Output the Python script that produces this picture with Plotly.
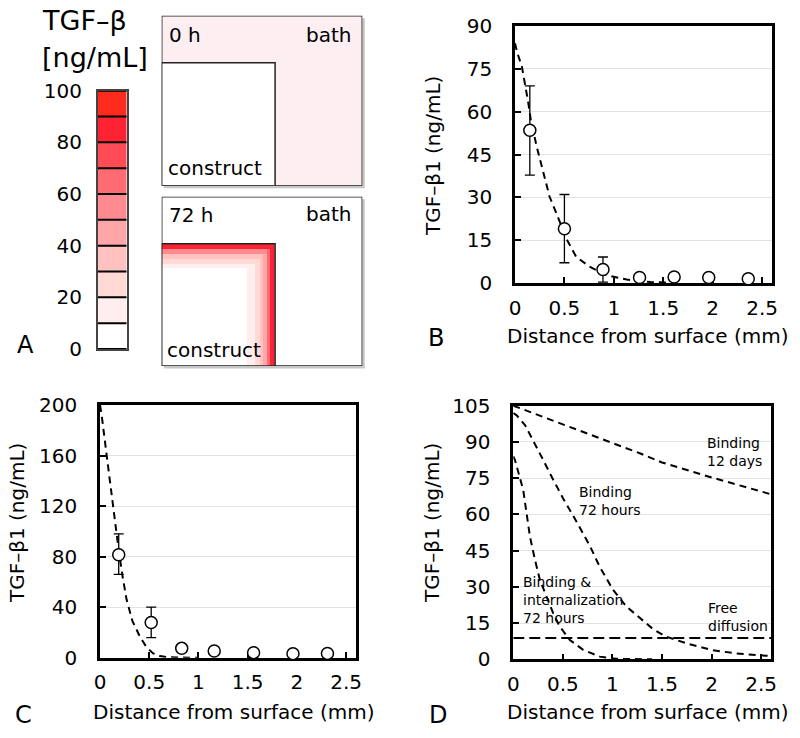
import numpy as np
import plotly.graph_objects as go

W, H = 800, 738
FONT = "DejaVu Sans"


def fx(x):
    return x / W


def fy(y):
    return 1 - y / H


# ---------------- data ----------------
# Panel B: measured points and fit
b_x = [0.15, 0.50, 0.89, 1.26, 1.61, 1.96, 2.36]
b_y = [53.5, 19.0, 4.7, 1.9, 2.1, 1.9, 1.5]
b_err_plus = [15.5, 12.0, 4.4, 0, 0, 0, 0]
b_err_minus = [15.7, 11.9, 4.4, 0, 0, 0, 0]
b_fit_x = [0, 0.02, 0.07, 0.10, 0.135, 0.16, 0.22, 0.29, 0.35, 0.42, 0.52, 0.62, 0.76, 0.93, 1.13, 1.37, 1.55]
b_fit_y = [84, 81, 75.7, 70, 63, 57, 47.7, 38.3, 30.2, 24.3, 15.5, 9.1, 5.6, 2.7, 1.2, 0.35, 0.1]

# Panel C
c_x = [0.19, 0.52, 0.83, 1.16, 1.56, 1.96, 2.31]
c_y = [81.5, 27.8, 7.4, 5.3, 4.0, 3.2, 3.4]
c_err_plus = [16.5, 12.2, 3.0, 0, 0, 0, 0]
c_err_minus = [15.5, 11.9, 3.0, 0, 0, 0, 0]
c_fit_x = [0, 0.017, 0.068, 0.108, 0.152, 0.19, 0.23, 0.27, 0.33, 0.405, 0.47, 0.54, 0.61, 0.68, 0.8, 1.0]
c_fit_y = [200, 192, 160, 134, 108, 85, 64, 46, 29, 16.7, 8.5, 3.4, 1.3, 0.5, 0.1, 0]

# Panel D: model curves
d_12d_x = [0, 0.5, 1.0, 1.276, 1.5, 2.0, 2.5, 2.6]
d_12d_y = [105, 97.3, 89.5, 85.3, 81.5, 75.3, 69.5, 68.3]
d_72h_x = [0, 0.034, 0.118, 0.218, 0.302, 0.387, 0.504, 0.638, 0.772, 0.872, 1.007, 1.142, 1.276,
           1.41, 1.54, 1.78, 2.01, 2.25, 2.55, 2.6]
d_72h_y = [102, 101, 97, 89.4, 82.5, 75.6, 66.5, 57, 47, 38.3, 28.7, 21.8, 17.0,
           12.5, 9.4, 6.2, 3.8, 2.4, 1.5, 1.4]
d_int_x = [0, 0.017, 0.10, 0.135, 0.168, 0.219, 0.269, 0.336, 0.403, 0.47, 0.571, 0.705, 0.873, 1.04, 1.4]
d_int_y = [84, 82.5, 70.1, 60.5, 50.8, 41.1, 32.8, 25.9, 19.0, 13.5, 8.0, 3.9, 1.1, 0.2, 0]
d_free_x = [0, 2.6]
d_free_y = [8.8, 8.8]

# Panel A: colour scale bins and 72 h penetration bands (depth in schematic px)
cbar_edges = [0, 10, 20, 30, 40, 50, 60, 70, 80, 90, 100]
cbar_colors = ["#ffffff", "#ffeeed", "#ffd9d4", "#ffc2bf", "#ffa6a8", "#ff8a8f",
               "#ff6b72", "#ff4b55", "#ff2233", "#ff2b1c"]
cbar_ticks = [0, 20, 40, 60, 80, 100]
right_band_depth = [0, 5, 8, 12, 15, 20, 28]
right_band_conc = [85, 65, 48, 35, 25, 15, 0]
top_band_depth = [0, 5, 10, 15, 20, 24]
top_band_conc = [80, 55, 35, 20, 12, 0]

xticks = [0, 0.5, 1, 1.5, 2, 2.5]
xticklabels = ["0", "0.5", "1", "1.5", "2", "2.5"]

# ---------------- figure ----------------
fig = go.Figure()

dash_style = "7px,5px"


def add_fit(x, y, xa, ya, dash=dash_style):
    fig.add_trace(go.Scatter(x=x, y=y, xaxis=xa, yaxis=ya, mode="lines",
                             line=dict(color="black", width=2, dash=dash),
                             hoverinfo="skip"))


def add_points(x, y, ep, em, xa, ya):
    fig.add_trace(go.Scatter(x=x, y=y, xaxis=xa, yaxis=ya, mode="markers",
                             marker=dict(symbol="circle", size=12, color="white",
                                         line=dict(color="black", width=1.5)),
                             error_y=dict(type="data", array=ep, arrayminus=em,
                                          color="black", thickness=1.3, width=5),
                             cliponaxis=False))


add_fit(b_fit_x, b_fit_y, "x", "y")
add_points(b_x, b_y, b_err_plus, b_err_minus, "x", "y")
add_fit(c_fit_x, c_fit_y, "x2", "y2")
add_points(c_x, c_y, c_err_plus, c_err_minus, "x2", "y2")
add_fit(d_12d_x, d_12d_y, "x3", "y3")
add_fit(d_72h_x, d_72h_y, "x3", "y3")
add_fit(d_int_x, d_int_y, "x3", "y3")
add_fit(d_free_x, d_free_y, "x3", "y3", dash="11px,5px")

# discrete colour scale
cs = []
for i, col in enumerate(cbar_colors):
    cs.append([cbar_edges[i] / 100, col])
    cs.append([cbar_edges[i + 1] / 100, col])

# colour bar of panel A
bin_mid = [(cbar_edges[i] + cbar_edges[i + 1]) / 2 for i in range(len(cbar_colors))]
fig.add_trace(go.Heatmap(x=[0, 1], y=cbar_edges, z=[[v] for v in bin_mid],
                         xaxis="x4", yaxis="y4", colorscale=cs, zmin=0, zmax=100,
                         showscale=False, hoverinfo="skip"))
sx, sy = [], []
for e in cbar_edges:
    sx += [0, 1, None]
    sy += [e, e, None]
fig.add_trace(go.Scatter(x=sx, y=sy, xaxis="x4", yaxis="y4", mode="lines",
                         line=dict(color="black", width=2), hoverinfo="skip"))

# 72 h construct gradient (construct occupies x 0..113.4, y 0..122.3 in box units)
CW, CH = 113.4, 122.3


def band_lookup(depth, depths, concs):
    out = np.zeros_like(depth)
    for i in range(len(depths) - 1):
        m = (depth >= depths[i]) & (depth < depths[i + 1])
        out[m] = concs[i]
    return out


gx = np.arange(0, CW + 0.01, 1.0)
gy = np.arange(0, CH + 0.01, 1.0)
cx = (gx[:-1] + gx[1:]) / 2
cy = (gy[:-1] + gy[1:]) / 2
XX, YY = np.meshgrid(cx, cy)
z_right = band_lookup(CW - XX, right_band_depth, right_band_conc)
z_top = band_lookup(CH - YY, top_band_depth, top_band_conc)
zz = np.maximum(z_right, z_top)
fig.add_trace(go.Heatmap(x=gx, y=gy, z=zz, xaxis="x6", yaxis="y6", colorscale=cs,
                         zmin=0, zmax=100, showscale=False, hoverinfo="skip"))

# ---------------- axes ----------------
common_x = dict(range=[0, 2.6], tickvals=xticks, ticktext=xticklabels, ticks="inside",
                ticklen=6, tickwidth=2, tickcolor="black", showline=True, linewidth=2.5,
                linecolor="black", mirror=True, showgrid=False, zeroline=False,
                tickfont=dict(family=FONT, size=20, color="black"), layer="below traces",
                ticklabelstandoff=5, automargin=False)
common_y = dict(ticks="inside", ticklen=6, tickwidth=2, tickcolor="black", showline=True,
                linewidth=2.5, linecolor="black", mirror=True, showgrid=True,
                gridcolor="#e2e2e2", gridwidth=1, zeroline=False,
                tickfont=dict(family=FONT, size=20, color="black"), layer="below traces",
                ticklabelstandoff=16, automargin=False)

layout = dict(
    template="none",
    width=W, height=H, margin=dict(l=0, r=0, t=0, b=0, pad=0, autoexpand=False),
    paper_bgcolor="white", plot_bgcolor="white", showlegend=False,
    font=dict(family=FONT, color="black"),
    xaxis=dict(domain=[fx(515), fx(772)], anchor="y", **common_x),
    yaxis=dict(domain=[fy(283), fy(26)], anchor="x", range=[0, 90], dtick=15, **common_y),
    xaxis2=dict(domain=[fx(100), fx(356)], anchor="y2", **common_x),
    yaxis2=dict(domain=[fy(657.7), fy(405)], anchor="x2", range=[0, 200], dtick=40, **common_y),
    xaxis3=dict(domain=[fx(513.3), fx(771)], anchor="y3", **common_x),
    yaxis3=dict(domain=[fy(659.3), fy(405.7)], anchor="x3", range=[0, 105], dtick=15, **common_y),
    xaxis4=dict(domain=[fx(97.7), fx(126.7)], anchor="y4", range=[0, 1], showline=True,
                mirror=True, linecolor="#444", linewidth=1.5, showticklabels=False,
                ticks="", showgrid=False, zeroline=False, automargin=False),
    yaxis4=dict(domain=[fy(349), fy(90.7)], anchor="x4", range=[0, 100], tickvals=cbar_ticks,
                ticks="", showline=True, mirror=True, linecolor="#444", linewidth=1.5,
                showgrid=False, zeroline=False, ticklabelstandoff=10, automargin=False,
                tickfont=dict(family=FONT, size=20, color="black")),
    xaxis5=dict(domain=[fx(161.7), fx(362.3)], anchor="y5", range=[0, 200.6], visible=False),
    yaxis5=dict(domain=[fy(185.7), fy(15.7)], anchor="x5", range=[0, 170], visible=False),
    xaxis6=dict(domain=[fx(161.7), fx(362.3)], anchor="y6", range=[0, 200.6], visible=False),
    yaxis6=dict(domain=[fy(366), fy(196.7)], anchor="x6", range=[0, 169.3], visible=False),
)
fig.update_layout(**layout)

# ---------------- schematic shapes (panel A) ----------------
shapes = []
for (top, bot) in [(15.7, 185.7), (196.7, 366)]:
    shapes.append(dict(type="rect", xref="paper", yref="paper", x0=fx(163.7), x1=fx(364.8),
                       y0=fy(bot + 2.5), y1=fy(top + 2.5), fillcolor="rgba(0,0,0,0.22)",
                       line=dict(width=0), layer="below"))
# 0 h box: bath tinted, construct white
shapes.append(dict(type="rect", xref="x5", yref="y5", x0=0, x1=200.6, y0=0, y1=170,
                   fillcolor="#fdeef2", line=dict(color="#222", width=1.5), layer="below"))
shapes.append(dict(type="rect", xref="x5", yref="y5", x0=0, x1=CW, y0=0, y1=123,
                   fillcolor="white", line=dict(color="#222", width=1.5), layer="above"))
# 72 h box
shapes.append(dict(type="rect", xref="x6", yref="y6", x0=0, x1=200.6, y0=0, y1=169.3,
                   fillcolor="white", line=dict(color="#222", width=1.5), layer="below"))
shapes.append(dict(type="rect", xref="x6", yref="y6", x0=0, x1=CW, y0=0, y1=CH,
                   fillcolor="rgba(0,0,0,0)", line=dict(color="#222", width=1.5), layer="above"))
fig.update_layout(shapes=shapes)

# ---------------- text ----------------
ann = []


def txt(s, x, y, size, xanchor="left", angle=0, align="left"):
    ann.append(dict(text=s, x=fx(x), y=fy(y), xref="paper", yref="paper", showarrow=False,
                    xanchor=xanchor, yanchor="middle", textangle=angle, align=align,
                    font=dict(family=FONT, size=size, color="black")))


# Panel A
txt("TGF–β", 40, 20, 27)
txt("[ng/mL]", 40, 57, 27)
txt("0 h", 167, 35, 20)
txt("bath", 353, 35, 20, xanchor="right")
txt("construct", 166, 168, 20)
txt("72 h", 167, 215, 20)
txt("bath", 353, 214, 20, xanchor="right")
txt("construct", 165, 350, 20)

# panel letters
txt("A", 25, 345, 24, xanchor="center")
txt("B", 436, 338, 24, xanchor="center")
txt("C", 23, 715, 24, xanchor="center")
txt("D", 438, 715, 24, xanchor="center")

# axis titles
ytitle = "TGF–β1 (ng/mL)"
xtitle = "Distance from surface (mm)"
txt(ytitle, 433, 156, 20, xanchor="center", angle=-90)
txt(ytitle, 17, 523, 20, xanchor="center", angle=-90)
txt(ytitle, 432, 523, 20, xanchor="center", angle=-90)
txt(xtitle, 648, 336, 20, xanchor="center")
txt(xtitle, 234, 712, 20, xanchor="center")
txt(xtitle, 648, 712, 20, xanchor="center")

# panel D curve labels
for s, x, y in [("Binding<br>12 days", 705, 451.5),
                ("Binding<br>72 hours", 577, 500.5),
                ("Binding &amp;<br>internalization<br>72 hours", 520.7, 599.5),
                ("Free<br>diffusion", 706, 617)]:
    txt(s, x, y, 14)

fig.update_layout(annotations=ann)

fig.write_html("out.html", config={"displayModeBar": False},
               post_script="document.body.style.margin='0';document.body.style.padding='0';")
